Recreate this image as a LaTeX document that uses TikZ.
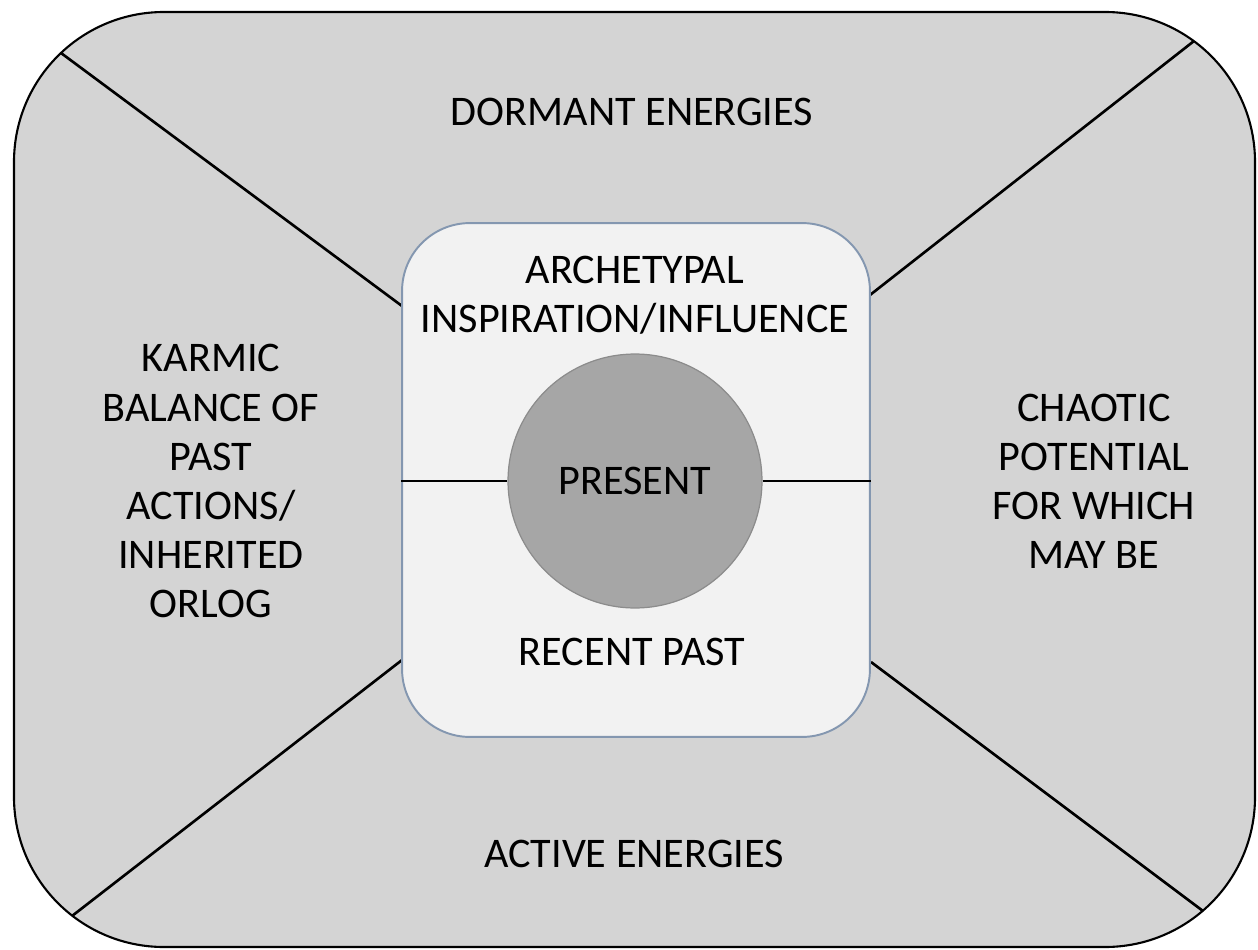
\documentclass[tikz,border=0pt]{standalone}
\usepackage{fontspec}
\setmainfont{Carlito}
\usetikzlibrary{positioning}
\definecolor{framegray}{HTML}{D4D4D4}
\definecolor{panelwhite}{HTML}{F2F2F2}
\definecolor{panelblue}{HTML}{8497B0}
\definecolor{coregray}{HTML}{A6A6A6}
\definecolor{coreedge}{HTML}{8C8C8C}

\begin{document}
\begin{tikzpicture}[
    x=0.02cm,y=-0.02cm,
    frame/.style={draw=black,line width=1.2pt,fill=framegray,rounded corners=3cm},
    panel/.style={draw=panelblue,line width=1.1pt,fill=panelwhite,rounded corners=1.36cm,
      minimum width=9.36cm,minimum height=10.28cm,inner sep=0pt},
    core/.style={circle,draw=coreedge,line width=0.7pt,fill=coregray,
      minimum size=5.08cm,inner sep=0pt,font=\fontsize{24}{27.9}\selectfont},
    zonetext/.style={align=center,inner sep=0pt,font=\fontsize{24}{27.9}\selectfont},
    divider/.style={black,line width=1.5pt}
  ]
  \useasboundingbox (0,0) rectangle (1258,950);
  \draw[frame] (14,12) rectangle (1255,947);

  \coordinate (tl) at (61,53);
  \coordinate (tr) at (1194,41);
  \coordinate (bl) at (72,916);
  \coordinate (br) at (1203,911);
  \coordinate (tlin) at (402,306);
  \coordinate (trin) at (870,295);
  \coordinate (blin) at (402,660);
  \coordinate (brin) at (871,662);
  \draw[divider] (tl) -- (tlin);
  \draw[divider] (tr) -- (trin);
  \draw[divider] (bl) -- (blin);
  \draw[divider] (br) -- (brin);

  \node[panel] (panel) at (636,480) {};
  \node[core] (present) at (635,481) {PRESENT};
  \draw[divider] (panel.west |- present) -- (present.west);
  \draw[divider] (present.east) -- (panel.east |- present);

  \node[zonetext] (dormant) at (632,112) {DORMANT ENERGIES};
  \node[zonetext] (archetypal) at (635,295) {ARCHETYPAL\\INSPIRATION/INFLUENCE};
  \node[zonetext] (recent) at (632,652) {RECENT PAST};
  \node[zonetext] (active) at (634,854) {ACTIVE ENERGIES};
  \node[zonetext] (karmic) at (211,481) {KARMIC\\BALANCE OF\\PAST\\ACTIONS/\\INHERITED\\ORLOG};
  \node[zonetext] (chaotic) at (1094,481) {CHAOTIC\\POTENTIAL\\FOR WHICH\\MAY BE};
\end{tikzpicture}
\end{document}
